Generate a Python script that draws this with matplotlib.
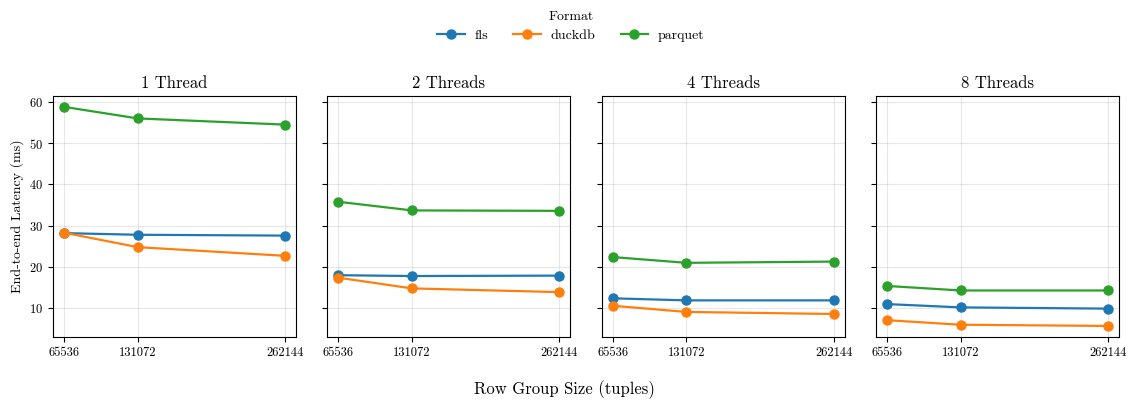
import matplotlib
matplotlib.use("Agg")
import matplotlib.pyplot as plt

# row group sizes (tuples)
row_groups = [65536, 131072, 262144]
thread_titles = ["1 Thread", "2 Threads", "4 Threads", "8 Threads"]
formats = ["fls", "duckdb", "parquet"]
colors = ["#1f77b4", "#ff7f0e", "#2ca02c"]

# latency in ms, one list per thread count
fls = [[28.2, 27.8, 27.6], [18.0, 17.8, 17.9], [12.4, 11.9, 11.9], [11.0, 10.2, 9.9]]
duckdb = [[28.3, 24.8, 22.7], [17.4, 14.8, 13.9], [10.6, 9.1, 8.6], [7.1, 6.0, 5.7]]
parquet = [[58.8, 56.0, 54.5], [35.8, 33.7, 33.6], [22.4, 21.0, 21.3], [15.4, 14.3, 14.3]]

plt.rcParams["font.family"] = "serif"
plt.rcParams["font.serif"] = ["cmr10", "DejaVu Serif"]
plt.rcParams["mathtext.fontset"] = "cm"
plt.rcParams["axes.formatter.use_mathtext"] = True

fig, axes = plt.subplots(1, 4, figsize=(11.28, 4.03), dpi=100, sharey=True)
fig.subplots_adjust(left=0.047, right=0.992, top=0.762, bottom=0.164, wspace=0.128)

series = [fls, duckdb, parquet]
for i, ax in enumerate(axes):
    for name, data, c in zip(formats, series, colors):
        ax.plot(row_groups, data[i], marker="o", color=c, linewidth=1.6,
                markersize=6.5, label=name)
    ax.set_title(thread_titles[i], fontsize=12)
    ax.set_xticks(row_groups)
    ax.set_xticklabels([str(r) for r in row_groups], fontsize=9)
    ax.tick_params(axis="y", labelsize=9)
    ax.grid(True, alpha=0.3)
    ax.set_yticks([10, 20, 30, 40, 50, 60])

axes[0].set_ylabel("End-to-end Latency (ms)", fontsize=10)
fig.supxlabel("Row Group Size (tuples)", fontsize=12, y=0.01)

handles, labels = axes[0].get_legend_handles_labels()
fig.legend(handles, labels, title="Format", loc="upper center",
           bbox_to_anchor=(0.506, 1.005), ncol=3, frameon=False,
           fontsize=10, title_fontsize=10, columnspacing=1.8, handletextpad=0.7)

fig.savefig("out.png", dpi=100)
